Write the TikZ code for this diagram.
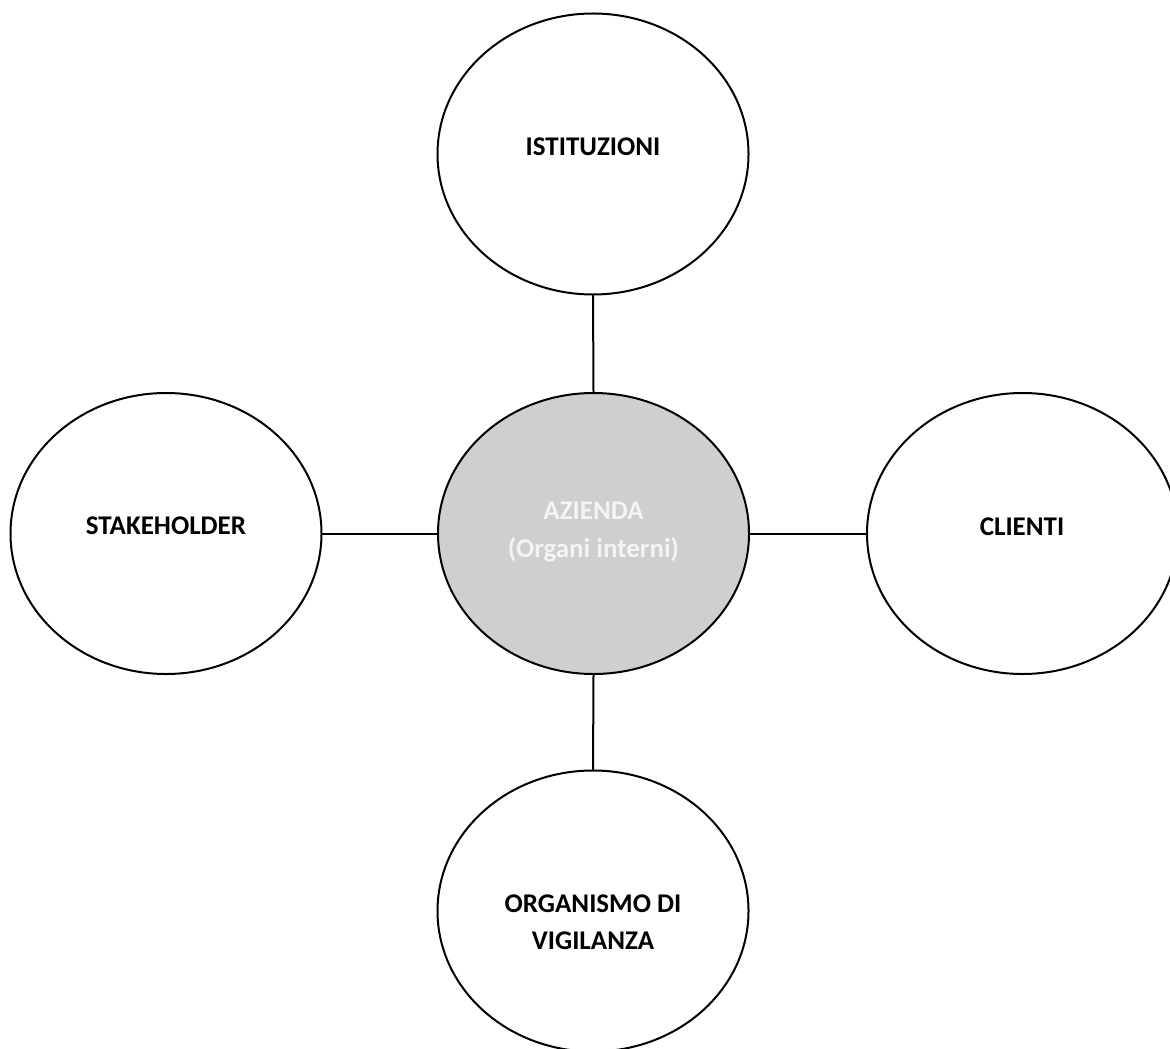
\documentclass[tikz,border=0pt]{standalone}
\usepackage{fontspec}
\setmainfont{Carlito}
\usetikzlibrary{shapes.geometric}
\definecolor{ovalgray}{RGB}{208,206,206}
\definecolor{lighttext}{RGB}{244,244,244}
\begin{document}
\begin{tikzpicture}[x=0.5pt,y=-0.5pt,
  oval/.style={ellipse, draw=black, line width=1pt, fill=white,
    minimum width=155.5pt, minimum height=140.5pt, inner sep=0pt, outer sep=0pt},
  centeroval/.style={oval, fill=ovalgray},
  lbl/.style={font=\fontsize{13.5}{18.6}\selectfont\bfseries, align=center, text=black, inner sep=0pt},
  lightlbl/.style={lbl, text=lighttext, font=\fontsize{13.5}{19.2}\selectfont\bfseries},
  link/.style={draw=black, line width=1pt}]
\useasboundingbox (0,0) rectangle (1170,1048);
\node[oval] (ist) at (593,154) {};
\node[centeroval] (az) at (593.5,533.5) {};
\node[oval] (stk) at (166,533.5) {};
\node[oval] (cli) at (1022.5,533.5) {};
\node[oval] (org) at (593,911) {};
\node[lbl] (istt) at (593,147) {ISTITUZIONI};
\node[lightlbl] (azt) at (593.5,532) {AZIENDA\\(Organi interni)};
\node[lbl] (stkt) at (166,526) {STAKEHOLDER};
\node[lbl] (clit) at (1022,527) {CLIENTI};
\node[lbl] (orgt) at (593,922) {ORGANISMO DI\\VIGILANZA};
\draw[link] (ist.south) -- (az.north);
\draw[link] (stk.east) -- (az.west);
\draw[link] (az.east) -- (cli.west);
\draw[link] (az.south) -- (org.north);
\end{tikzpicture}
\end{document}
